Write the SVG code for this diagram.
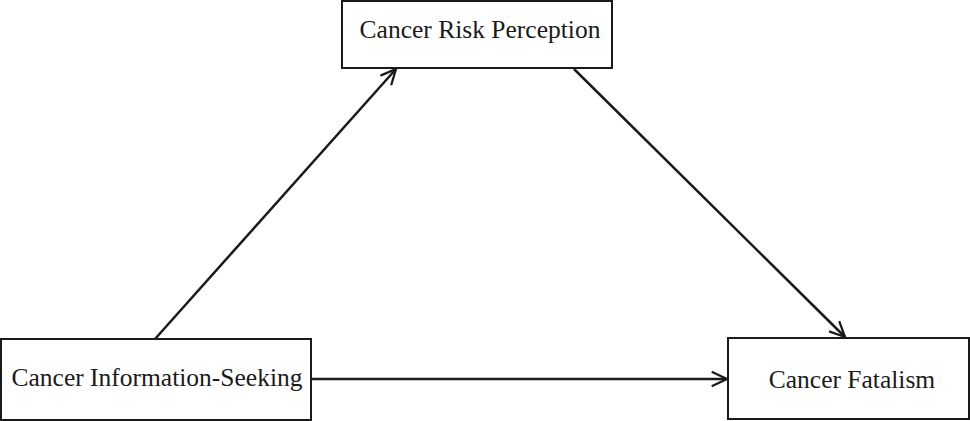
<svg xmlns="http://www.w3.org/2000/svg" width="970" height="421" viewBox="0 0 970 421">
<style>
.box{fill:#fff;stroke:#1a1a1a;stroke-width:2}
.t{font-family:"Liberation Serif",serif;font-size:25.5px;fill:#1a1a1a;text-anchor:middle}
.c{stroke:#1a1a1a;stroke-width:2.5;fill:none}
</style>
<defs><marker id="b" viewBox="0 0 20 20" refX="19" refY="10" markerWidth="18" markerHeight="18" markerUnits="userSpaceOnUse" orient="auto"><path d="M2,2 L19,10 L2,18" fill="none" stroke="#1a1a1a" stroke-width="2.5"/></marker></defs>
<g id="connectors">
<line class="c" x1="155" y1="339" x2="396" y2="69" marker-end="url(#b)"/>
<line class="c" x1="574" y1="69" x2="845" y2="337" marker-end="url(#b)"/>
<line class="c" x1="312" y1="379" x2="727" y2="379" marker-end="url(#b)"/>
</g>
<g id="risk"><rect class="box" x="342" y="1" width="270" height="67"/><text class="t" x="480" y="38">Cancer Risk Perception</text></g>
<g id="seeking"><rect class="box" x="1" y="339" width="310" height="81"/><text class="t" x="157" y="386">Cancer Information-Seeking</text></g>
<g id="fatalism"><rect class="box" x="728" y="338" width="241" height="81"/><text class="t" x="852" y="388">Cancer Fatalism</text></g>
</svg>
